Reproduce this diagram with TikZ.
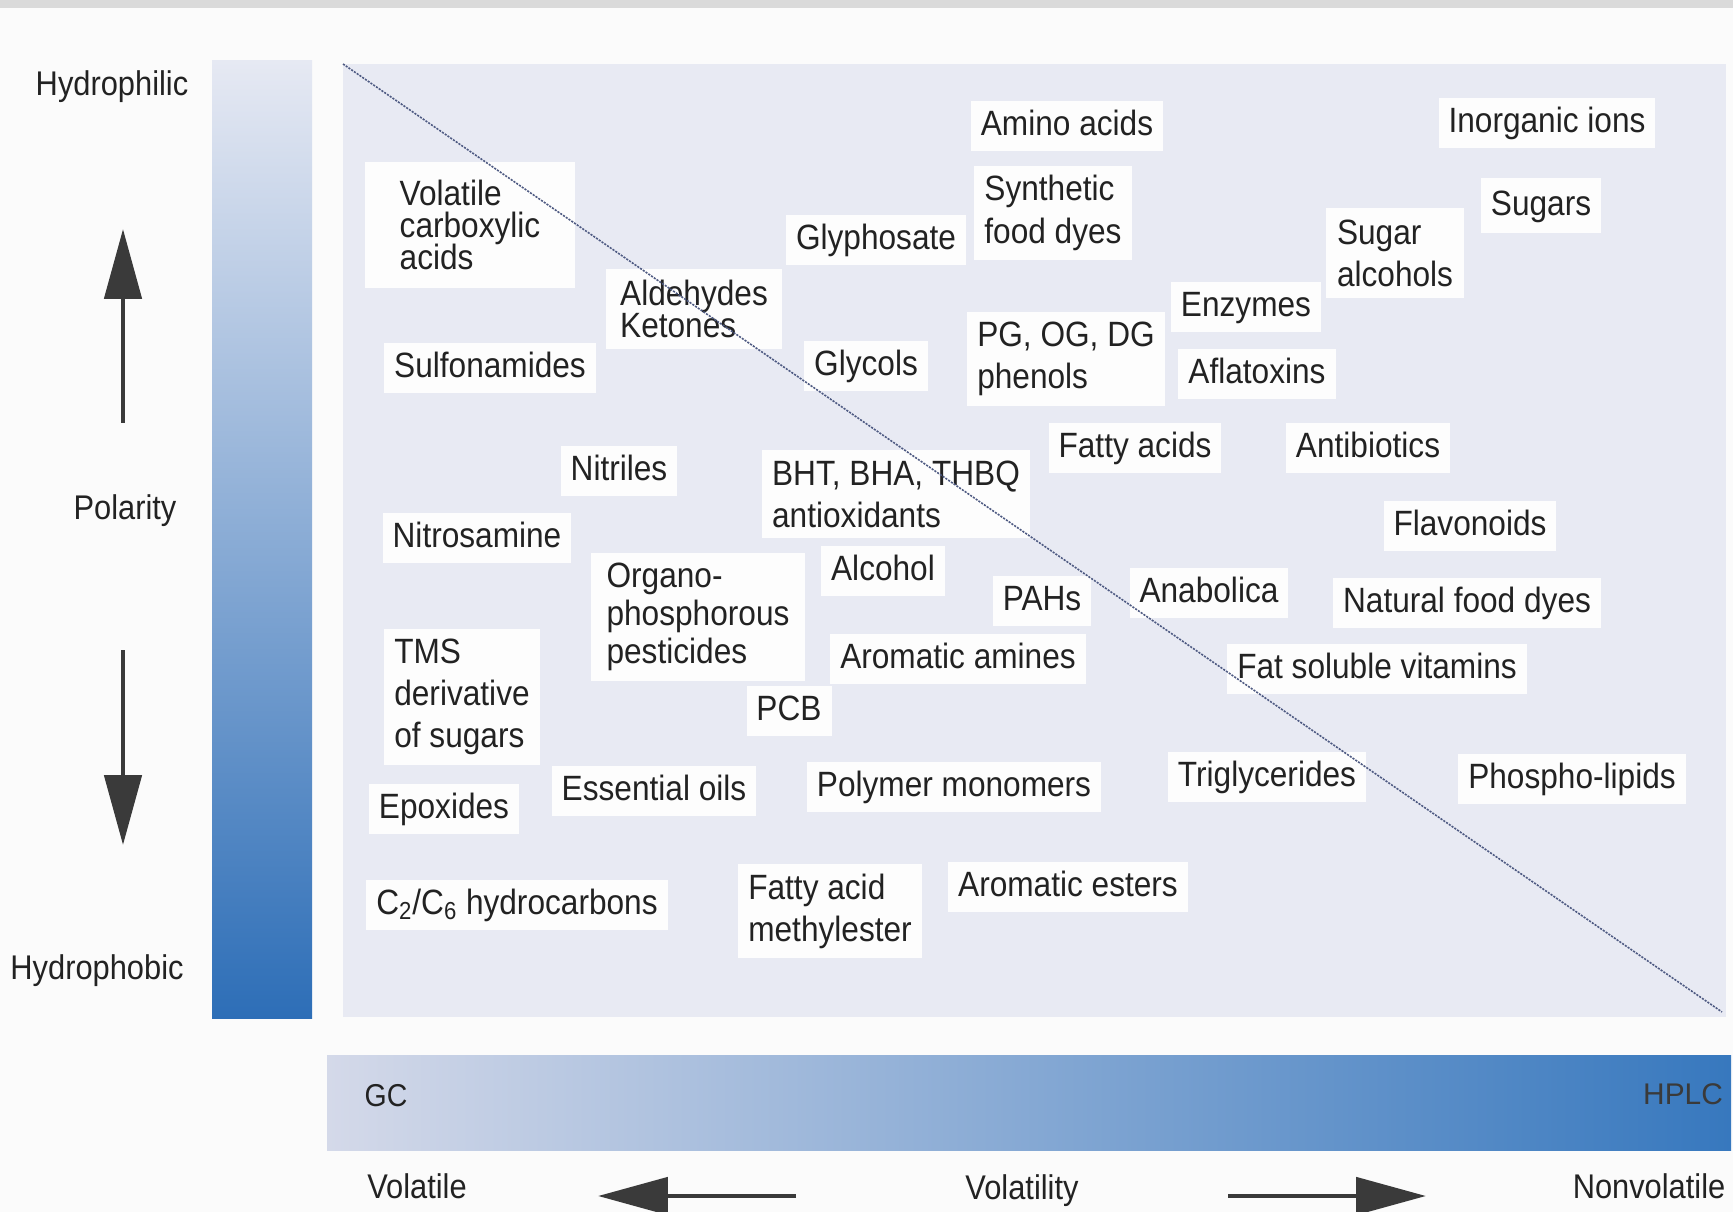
\documentclass[tikz,border=0pt]{standalone}
\usepackage{fontspec}
\setmainfont{Liberation Sans}[FakeStretch=0.9]
\newfontfamily\plainsans{Liberation Sans}
\usetikzlibrary{arrows.meta}

\definecolor{pagewhite}{RGB}{251,251,251}
\definecolor{topgray}{RGB}{218,218,218}
\definecolor{panelgray}{RGB}{232,234,243}
\definecolor{boxwhite}{RGB}{253,253,253}
\definecolor{inkblack}{RGB}{34,34,34}
\definecolor{arrowgray}{RGB}{58,58,58}
\definecolor{diagblue}{RGB}{78,90,130}
\definecolor{vbartop}{RGB}{230,233,243}
\definecolor{vbarmid}{RGB}{160,182,222}
\definecolor{vbarbottom}{RGB}{45,110,183}
\definecolor{hbarleft}{RGB}{212,217,233}
\definecolor{hbarmid}{RGB}{165,185,222}
\definecolor{hbarright}{RGB}{55,120,190}

\newcommand\tightlines{\lineskiplimit=-20pt\relax\lineskip=0pt\relax}

\begin{document}
\begin{tikzpicture}[x=0.02cm, y=-0.02cm,
    chem/.style = {rectangle, fill=boxwhite, text=inkblack, inner xsep=0.2cm, inner ysep=0.15cm,
                   font=\fontsize{20}{24}\selectfont, text height=15pt, text depth=4.5pt},
    chemblock/.style = {rectangle, fill=boxwhite, text=inkblack, inner sep=0.2cm, align=left,
                        font=\fontsize{20}{24}\selectfont},
    tight/.style = {font=\fontsize{20}{#1}\selectfont\tightlines},
    axislabel/.style = {font=\fontsize{19.5}{23}\selectfont, text=inkblack, inner sep=0pt},
    bigarrow/.style = {draw=arrowgray, line width=2.8pt, -{Triangle[length=1.4cm, width=0.74cm]}},
    diag/.style = {draw=diagblue, line width=0.9pt, dash pattern=on 1.2pt off 0.7pt},
]

%% ---- Page and background panels ----
\useasboundingbox (0,0) rectangle (1733,1212);
\fill[pagewhite] (0,0) rectangle (1733,1212);
\fill[topgray] (0,0) rectangle (1733,8);
\fill[panelgray] (343,64) rectangle (1726,1017);
\shade[top color=vbartop, middle color=vbarmid, bottom color=vbarbottom] (212,61) rectangle (312,1018);
\shade[left color=hbarleft, middle color=hbarmid, right color=hbarright] (327,1055) rectangle (1731,1150);

%% ---- Polarity axis ----
\node[axislabel] (hydrophil) at (112,87)  {Hydrophilic};
\node[axislabel] (polarity)  at (125,511) {Polarity};
\node[axislabel] (hydrophob) at (97,971)  {Hydrophobic};

\coordinate (upTail)   at (123,423);
\coordinate (upTip)    at (123,229);
\coordinate (downTail) at (123,650);
\coordinate (downTip)  at (123,845);
\draw[bigarrow] (upTail) -- (upTip);
\draw[bigarrow] (downTail) -- (downTip);

%% ---- Volatility axis ----
\node[axislabel, font=\fontsize{18}{22}\selectfont] (gc) at (386,1096) {GC};
\node[inner sep=0pt, text=arrowgray, font=\plainsans\fontsize{17}{20}\selectfont] (hplc) at (1683,1094) {HPLC};
\node[axislabel] (volatile)   at (417,1186)  {Volatile};
\node[axislabel] (volatility) at (1022,1191) {Volatility};
\node[axislabel] (nonvol)     at (1649,1186) {Nonvolatile};

\coordinate (leftTail)  at (796,1196);
\coordinate (leftTip)   at (598,1196);
\coordinate (rightTail) at (1228,1196);
\coordinate (rightTip)  at (1426,1196);
\draw[bigarrow] (leftTail) -- (leftTip);
\draw[bigarrow] (rightTail) -- (rightTip);

%% ---- Compound classes (single line) ----
\node[chem] (amino)    at (1067,126) {Amino acids};
\node[chem] (inorg)    at (1547,123) {Inorganic ions};
\node[chem] (glypho)   at (876,240)  {Glyphosate};
\node[chem, minimum width=2.3cm, minimum height=1.1cm] (sugars) at (1541,206) {Sugars};
\node[chem] (enzymes)  at (1246,307) {Enzymes};
\node[chem] (sulfon)   at (490,368)  {Sulfonamides};
\node[chem] (glycols)  at (866,366)  {Glycols};
\node[chem] (aflatox)  at (1257,374) {Aflatoxins};
\node[chem] (fattyac)  at (1135,448) {Fatty acids};
\node[chem] (antibio)  at (1368,448) {Antibiotics};
\node[chem] (nitriles) at (619,471)  {Nitriles};
\node[chem] (flavon)   at (1470,526) {Flavonoids};
\node[chem] (nitros)   at (477,538)  {Nitrosamine};
\node[chem] (alcohol)  at (883,571)  {Alcohol};
\node[chem] (pahs)     at (1042,601) {PAHs};
\node[chem] (anabol)   at (1209,593) {Anabolica};
\node[chem] (natdyes)  at (1467,603) {Natural food dyes};
\node[chem] (aromam)   at (958,659)  {Aromatic amines};
\node[chem] (fatsol)   at (1377,669) {Fat soluble vitamins};
\node[chem] (pcb)      at (789,711)  {PCB};
\node[chem] (epox)     at (444,809)  {Epoxides};
\node[chem] (essoil)   at (654,791)  {Essential oils};
\node[chem] (polymon)  at (954,787)  {Polymer monomers};
\node[chem] (trigly)   at (1267,777) {Triglycerides};
\node[chem] (phospho)  at (1572,779) {Phospho-lipids};
\node[chem] (c2c6)     at (517,905)  {C\textsubscript{2}/C\textsubscript{6} hydrocarbons};
\node[chem] (aromest)  at (1068,887) {Aromatic esters};

%% ---- Compound classes (several lines) ----
\node[chemblock, minimum width=4.2cm, minimum height=2.52cm, tight=18]
    (volcarb) at (470,225) {Volatile\\carboxylic\\acids};
\node[chemblock, minimum width=2.98cm, minimum height=1.8cm] (synth) at (1053,213) {Synthetic\\food dyes};
\node[chemblock, minimum width=2.76cm, minimum height=1.8cm] (sugaralc) at (1395,253) {Sugar\\alcohols};
\node[chemblock, minimum width=3.52cm, minimum height=1.6cm, tight=18.5]
    (aldket) at (694,309) {Aldehydes\\Ketones};
\node[chemblock, minimum width=3.3cm, minimum height=1.76cm] (pgog) at (1066,359) {PG, OG, DG\\phenols};
\node[chemblock, minimum width=5.2cm, minimum height=1.7cm] (bht) at (896,494) {BHT, BHA, THBQ\\antioxidants};
\node[chemblock, minimum width=4.28cm, minimum height=2.46cm, tight=21.5]
    (organo) at (698,617) {Organo-\\phosphorous\\pesticides};
\node[chemblock, minimum width=3.08cm, minimum height=2.66cm] (tms) at (462,697) {TMS\\derivative\\of sugars};
\node[chemblock, minimum width=3.7cm, minimum height=1.76cm] (fame) at (830,911) {Fatty acid\\methylester};

%% ---- GC / HPLC boundary ----
\coordinate (diagStart) at (343,64);
\coordinate (diagEnd)   at (1722,1012);
\draw[diag] (diagStart) -- (diagEnd);

\end{tikzpicture}
\end{document}
